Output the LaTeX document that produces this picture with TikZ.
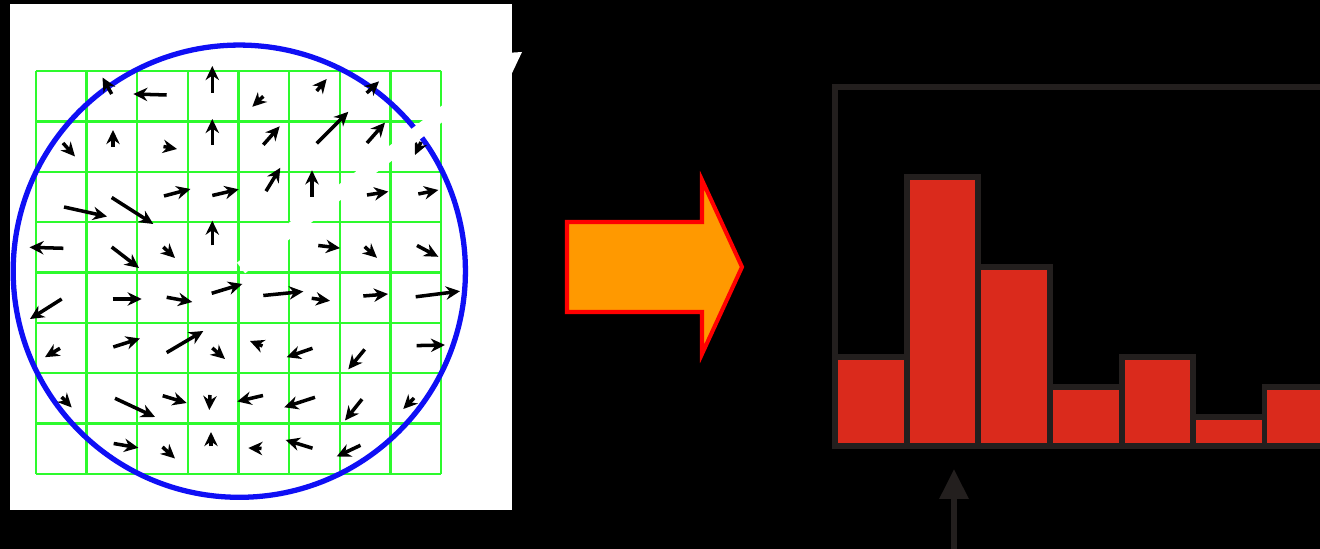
\documentclass[tikz,border=0pt]{standalone}
\usepackage{tikz}
\usetikzlibrary{arrows.meta}
\definecolor{fieldgreen}{RGB}{45,250,45}
\definecolor{rimblue}{RGB}{15,15,245}
\definecolor{blockorange}{RGB}{255,153,0}
\definecolor{barred}{RGB}{218,42,28}
\definecolor{inkdark}{RGB}{35,31,30}

\begin{document}
\begin{tikzpicture}[x=0.01cm, y=-0.01cm,
  gridline/.style={fieldgreen, line width=0.65pt},
  vec/.style={black, line width=1pt, -{Stealth[length=4pt, width=3.8pt]}},
  histbar/.style={fill=barred, draw=inkdark, line width=1.65pt}]
% Canvas
\fill[black] (0,0) rectangle (1320,549);
\useasboundingbox (0,0) rectangle (1320,549);
% Gradient patch: white card, 8x8 cells, circular window
\fill[white] (10,4) rectangle (512,510);
\foreach \i in {0,...,8} {
  \draw[gridline] (36+50.625*\i,71) -- (36+50.625*\i,474);
  \draw[gridline] (36,71+50.375*\i) -- (441,71+50.375*\i);
}
\draw[rimblue, line width=1.5pt] (239.3,271.2) circle [radius=2.26cm];
% Per-cell gradient vectors: tail x/y, head x/y
\foreach \xa/\ya/\xb/\yb in {
  111.7/94/102.5/77.5, 166.7/95/133.3/94, 212.3/93/212.3/66, 263.3/96.3/252.3/106.8,
  316.7/91/326.7/79, 366.7/93/379/81.4,
  63/143/75/156.5, 113/147/113/130, 163.5/146.5/177/149, 212.3/145/212.3/119,
  263.3/144.8/279.7/126.3, 316.7/143.4/348.3/111.8, 367/143/385/122.6, 421/142/415/155,
  64/207/107/216.5, 111.7/197.5/153.3/224, 164/196/190.5/189, 212.3/195.5/238.7/189.3,
  266/191.2/280.3/167.8, 312/197/312/170.3, 367/195/388.3/191.6, 418.3/194/438.3/190,
  63.3/248.3/29.5/247.3, 111.7/247/139/268, 163.3/247/175/258, 212.3/245.5/212.3/220.7,
  318.3/245.5/340/248.1, 364.7/246.7/377/257.8, 417/245.5/438.3/256.8,
  61.7/299/30/319, 112.7/299/141.7/299, 166.7/297.3/192.3/302, 211.7/293.3/242.3/284,
  263.3/295.5/303.3/291.5, 311.7/298.3/330/300.8, 363.3/296/388/294, 415.7/296.8/460/291.2,
  60/348.3/45/357.2, 113.3/347/140/338.5, 166.7/352.6/203.3/331, 212.3/348/225/359,
  262.5/346/250/341, 312.5/348.3/286.7/357.2, 364.7/349.4/348.3/369.3, 416.7/345.6/445/345,
  61.7/397/71.7/407.5, 115/398.3/155/417, 162.7/395.7/186.7/403, 210/395/209.3/410,
  263/395.5/237.3/401.5, 315/397.3/284.2/407.3, 362/399.2/345/420.5, 414/398/403.3/409,
  113.7/443.5/138.3/447.8, 162.5/447/175/458.5, 211/446.5/211/432,
  261.5/448.5/248.3/448, 312.5/448.2/285.7/440, 360.5/445.3/336.7/456.5}
  \draw[vec] (\xa,\ya) -- (\xb,\yb);
% Dominant orientation, drawn in white over the patch
\coordinate (tail) at (241,268);
\coordinate (neck) at (498,71);
\coordinate (tip) at (522,52);
\draw[white, line width=3.8pt] (tail) -- (neck);
\fill[white] (tip) -- (490,54) -- (505,88) -- cycle;
% Block arrow
\draw[red, line width=1.15pt, line join=miter, fill=blockorange]
  (567,222) -- (702,222) -- (702,180) -- (742,267) -- (702,354) -- (702,312) -- (567,312) -- cycle;
% Orientation histogram
\foreach \xl/\h in {835/356.7, 906.7/177.3, 978.3/267.3, 1050/386.7, 1121.7/356.7, 1193.2/416.7, 1264.5/386.7}
  \draw[histbar] (\xl,\h) rectangle (\xl+71.6,446);
\draw[inkdark, line width=1.75pt] (1330,87) -- (835,87) -- (835,446) -- (1330,446);
\coordinate (pin) at (954,556);
\coordinate (peak) at (954,469);
\draw[inkdark, line width=1.5pt, -{Triangle[length=8.5pt, width=8pt]}] (pin) -- (peak);
\end{tikzpicture}
\end{document}
